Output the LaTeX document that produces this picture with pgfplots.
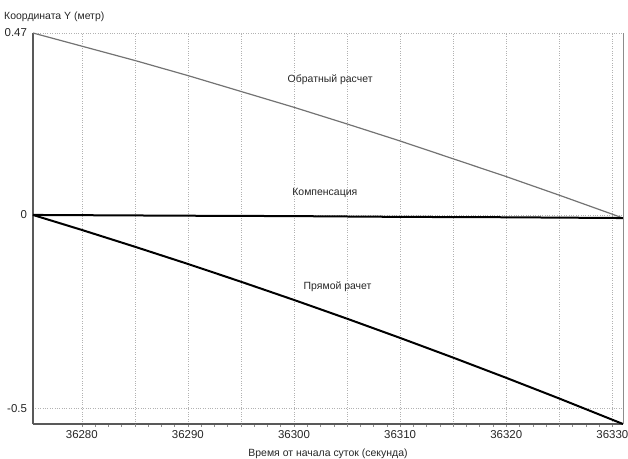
\documentclass[border=0pt]{standalone}
\usepackage{pgfplots}
\pgfplotsset{compat=1.18}
\usepackage{fontspec}
\setmainfont{Liberation Sans}
\begin{document}
\begin{tikzpicture}
\begin{axis}[
  scale only axis, width=590bp, height=391bp,
  xmin=36275.4, xmax=36331, ymin=-0.54, ymax=0.47,
  scaled x ticks=false, scaled y ticks=false,
  axis lines*=left,
  axis line style={draw=black!65, line width=1.4bp},
  xtick={36280,36290,36300,36310,36320,36330},
  xticklabels={36280,36290,36300,36310,36320,36330},
  minor x tick num=7,
  extra x ticks={36285,36295,36305,36315,36325},
  extra x tick labels={},
  extra x tick style={grid=major},
  ytick={-0.5,0,0.47},
  yticklabels={-0.5,0,0.47},
  grid=major,
  grid style={dotted, draw=black!30, line width=0.5bp},
  tick style={draw=black!45, line width=0.6bp},
  major tick length=2.5bp, minor tick length=2.5bp,
  tick align=outside,
  ytick style={draw=none},
  tick label style={font=\fontsize{11.5}{13}\selectfont, text=black!85},
  xlabel={Время от начала суток (секунда)},
  xlabel style={font=\fontsize{10.5}{12}\selectfont, text=black!85, yshift=1.5bp},
  clip=false,
]
\addplot[draw=black!55, line width=1.2bp] coordinates {
(36275.4,0.470) (36280,0.436) (36285,0.399) (36290,0.360) (36295,0.319)
(36300,0.278) (36305,0.235) (36310,0.191) (36315,0.145) (36320,0.099)
(36325,0.051) (36331,-0.008)};
\addplot[black, line width=2bp] coordinates {
(36275.4,0) (36290,-0.002) (36300,-0.003) (36310,-0.005) (36320,-0.006) (36331,-0.008)};
\addplot[black, line width=2bp] coordinates {
(36275.4,0) (36280,-0.0387) (36285,-0.0821) (36290,-0.1266) (36295,-0.1725)
(36300,-0.2196) (36305,-0.268) (36310,-0.3177) (36315,-0.3686) (36320,-0.4208)
(36325,-0.4742) (36331,-0.54)};
\draw[draw=black!45, line width=0.8bp] (rel axis cs:1,0) -- (rel axis cs:1,1);
\node[font=\fontsize{10.5}{12}\selectfont, text=black!85] at (axis cs:36303.4,0.349) {Обратный расчет};
\node[font=\fontsize{10.5}{12}\selectfont, text=black!85] at (axis cs:36302.9,0.057) {Компенсация};
\node[font=\fontsize{10.5}{12}\selectfont, text=black!85] at (axis cs:36304.1,-0.186) {Прямой рачет};
\end{axis}
\node[anchor=west, font=\fontsize{10.5}{12}\selectfont, text=black!85, inner sep=0pt] at ([xshift=-29bp,yshift=16bp]current axis.north west) {Координата Y (метр)};
\pgfresetboundingbox
\path[use as bounding box] ([xshift=-33bp,yshift=-35bp]current axis.south west) rectangle ([xshift=5bp,yshift=33bp]current axis.north east);
\end{tikzpicture}
\end{document}
